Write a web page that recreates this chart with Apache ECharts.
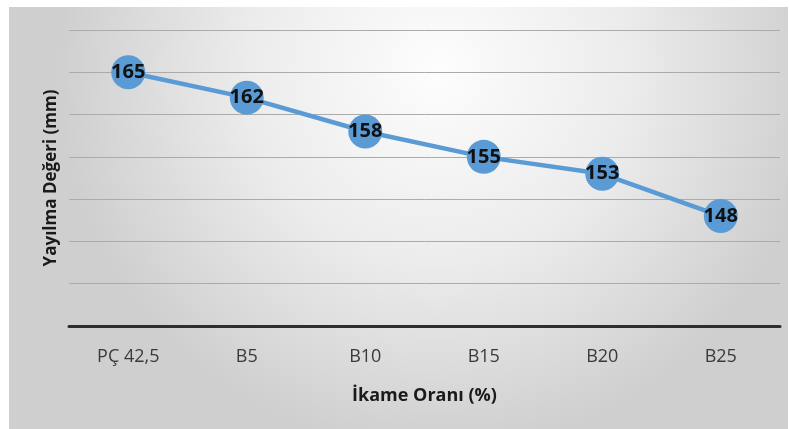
<!DOCTYPE html>
<html>
<head>
<meta charset="utf-8">
<script src="https://cdn.jsdelivr.net/npm/echarts@6/dist/echarts.min.js"></script>
<style>
  html, body { margin: 0; padding: 0; background: #ffffff; }
  #chart { width: 789px; height: 429px; }
</style>
</head>
<body>
<div id="chart"></div>
<script>
// Spread value per replacement ratio
const categories = ['PÇ 42,5', 'B5', 'B10', 'B15', 'B20', 'B25'];
const spreadValues = [165, 162, 158, 155, 153, 148];
const xTitle = 'İkame Oranı (%)';
const yTitle = 'Yayılma Değeri (mm)';

const chart = echarts.init(document.getElementById('chart'), null, { renderer: 'canvas' });

const FONT = '"Open Sans", "DejaVu Sans", sans-serif';
const BLUE = '#5b9bd5';

chart.setOption({
  animation: false,
  graphic: [{
    type: 'rect',
    left: 9,
    top: 7,
    z: -10,
    shape: { width: 779, height: 422 },
    style: {
      fill: {
        type: 'radial',
        x: 0.55, y: 0.15, r: 0.9,
        colorStops: [
          { offset: 0, color: '#fdfdfd' },
          { offset: 0.5, color: '#ececec' },
          { offset: 1, color: '#cfcfcf' }
        ]
      }
    }
  }],
  grid: { left: 69, top: 30, width: 711, height: 296 },
  xAxis: {
    type: 'category',
    data: categories,
    boundaryGap: true,
    axisLine: { show: true, lineStyle: { color: '#2e2e2e', width: 3 } },
    axisTick: { show: false },
    axisLabel: { margin: 22, fontSize: 18, color: '#3a3a3a', fontFamily: FONT },
    name: xTitle,
    nameLocation: 'middle',
    nameGap: 61,
    nameTextStyle: { fontSize: 18, fontWeight: 'bold', color: '#1a1a1a', fontFamily: FONT }
  },
  yAxis: {
    type: 'value',
    min: 135,
    max: 170,
    interval: 5,
    axisLine: { show: false },
    axisTick: { show: false },
    axisLabel: { show: false },
    splitLine: { show: true, lineStyle: { color: '#ababab', width: 1 } },
    name: yTitle,
    nameLocation: 'middle',
    nameGap: 9,
    nameTextStyle: { fontSize: 17, fontWeight: 'bold', color: '#1a1a1a', fontFamily: FONT }
  },
  series: [{
    type: 'line',
    data: spreadValues,
    symbol: 'circle',
    symbolSize: 34,
    lineStyle: { color: BLUE, width: 4.5 },
    itemStyle: { color: BLUE },
    label: {
      show: true,
      position: 'inside',
      fontSize: 20,
      fontWeight: 'bold',
      color: '#111111',
      fontFamily: FONT
    }
  }]
});
</script>
</body>
</html>
